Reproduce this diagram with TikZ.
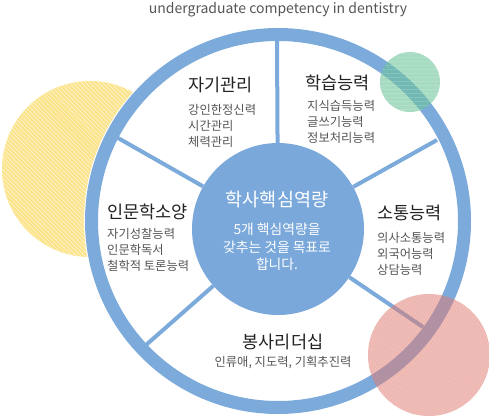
\documentclass[tikz,border=0pt]{standalone}
\usepackage{fontspec}
\setmainfont{Noto Sans CJK KR}
\usetikzlibrary{positioning,patterns.meta}
\definecolor{ringblue}{RGB}{123,170,219}
\definecolor{hubblue}{RGB}{122,168,219}
\definecolor{headink}{RGB}{34,34,34}
\definecolor{itemgray}{RGB}{85,85,85}
\definecolor{sunyellow}{RGB}{252,228,140}
\definecolor{mint}{RGB}{108,196,154}
\definecolor{rose}{RGB}{226,126,116}
\tikzset{
  head/.style={font=\fontsize{17.5}{20}\selectfont,text=headink,inner sep=0pt},
  items/.style={font=\fontsize{12.3}{16.2}\selectfont,text=itemgray,align=left,inner sep=0pt},
  spoke/.style={draw=ringblue,line width=4pt},
  hubtxt/.style={text=white,inner sep=0pt,align=center},
}

\begin{document}
\begin{tikzpicture}[x=1pt,y=-1pt]
\useasboundingbox (0,0) rectangle (489,417);
\coordinate (ringc) at (278,221);
\fill[sunyellow] (90,169) circle[radius=88pt];
\fill[pattern={Lines[angle=-45,distance=3pt,line width=0.5pt]},pattern color=white!70!sunyellow]
  (90,169) circle[radius=88pt];
\fill[white] (ringc) circle[radius=194pt];
\draw[ringblue,line width=13pt] (ringc) circle[radius=186.5pt];
\node[circle,fill=hubblue,minimum size=172pt,inner sep=0pt] (hub) at (278,229) {};
\coordinate (o1) at (277,41);
\coordinate (o2) at (437,140);
\coordinate (o3) at (423,327);
\coordinate (o4) at (146,345);
\coordinate (o5) at (118,138);
\foreach \o in {o1,o2,o3,o4,o5} \draw[spoke] (\o) -- (hub);
\fill[mint,opacity=0.6] (410,82) circle[radius=30pt];
\fill[pattern={Lines[angle=0,distance=4pt,line width=0.6pt]},pattern color=white,opacity=0.25]
  (410,82) circle[radius=30pt];
\fill[rose,opacity=0.5] (429,355) circle[radius=61pt];
\fill[pattern={Lines[angle=-60,distance=2.5pt,line width=0.4pt]},pattern color=rose,opacity=0.3]
  (429,355) circle[radius=61pt];
\node[font=\fontsize{14}{16}\selectfont,text=itemgray] (title) at (278,10)
  {undergraduate competency in dentistry};
\node[hubtxt,font=\fontsize{18.5}{21}\selectfont] (hubhead) at (277,200) {학사핵심역량};
\node[hubtxt,font=\fontsize{13.8}{17.5}\selectfont] (hubsub) at (277,247)
  {5개 핵심역량을\\갖추는 것을 목표로\\합니다.};
\node[head,anchor=west] (self) at (188,85) {자기관리};
\node[items,anchor=west] (selfl) at (188,126) {강인한정신력\\시간관리\\체력관리};
\node[head,anchor=west] (learn) at (305,83) {학습능력};
\node[items,anchor=west] (learnl) at (307,122) {지식습득능력\\글쓰기능력\\정보처리능력};
\node[head,anchor=west] (comm) at (377,213) {소통능력};
\node[items,anchor=west] (comml) at (377,254) {의사소통능력\\외국어능력\\상담능력};
\node[head,anchor=west] (human) at (107,212) {인문학소양};
\node[items,anchor=west] (humanl) at (107,250) {자기성찰능력\\인문학독서\\철학적 토론능력};
\node[head] (serve) at (283,342) {봉사리더십};
\node[items] (servel) at (283,363) {인류애, 지도력, 기획추진력};
\end{tikzpicture}
\end{document}
